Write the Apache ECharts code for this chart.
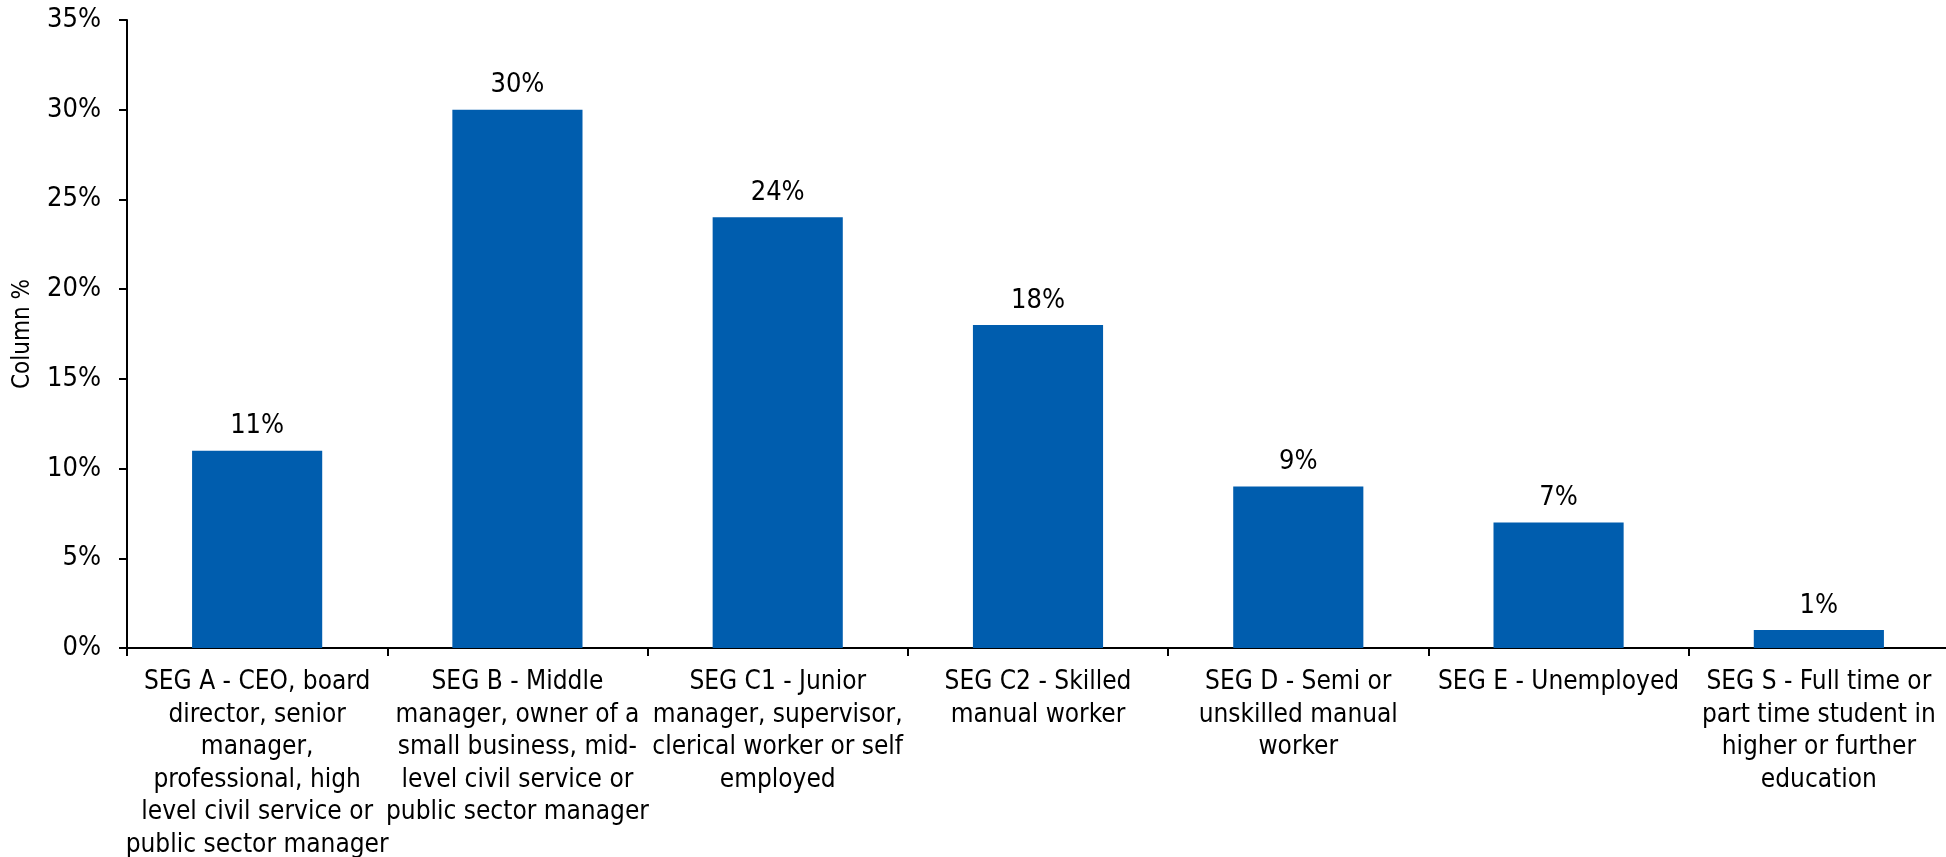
<!DOCTYPE html>
<html>
<head>
<meta charset="utf-8">
<script src="https://cdn.jsdelivr.net/npm/echarts@6/dist/echarts.min.js"></script>
<style>
  html, body { margin: 0; padding: 0; background: #ffffff; overflow: hidden; }
  #chart { width: 1946px; height: 857px; }
</style>
</head>
<body>
<div id="chart"></div>
<script>
// Socio-economic group categories (line breaks are part of the label text)
const categories = [
  'SEG A - CEO, board\ndirector, senior\nmanager,\nprofessional, high\nlevel civil service or\npublic sector manager',
  'SEG B - Middle\nmanager, owner of a\nsmall business, mid-\nlevel civil service or\npublic sector manager',
  'SEG C1 - Junior\nmanager, supervisor,\nclerical worker or self\nemployed',
  'SEG C2 - Skilled\nmanual worker',
  'SEG D - Semi or\nunskilled manual\nworker',
  'SEG E - Unemployed',
  'SEG S - Full time or\npart time student in\nhigher or further\neducation'
];

// Column percentages
const columnPercent = [11, 30, 24, 18, 9, 7, 1];

// Value axis settings
const axisMax = 35;
const axisStep = 5;

const FONT = "'DejaVu Sans Condensed', 'DejaVu Sans', sans-serif";
const BAR_COLOR = '#005DAE';

const chart = echarts.init(document.getElementById('chart'), null, { renderer: 'canvas' });

chart.setOption({
  animation: false,
  textStyle: { fontFamily: FONT, color: '#000' },
  grid: {
    left: 127, right: -3, top: 20, bottom: 209,
    containLabel: false,
    outerBoundsMode: 'none'
  },
  xAxis: {
    type: 'category',
    data: categories,
    axisLine: { show: true, lineStyle: { color: '#000', width: 2 } },
    axisTick: { show: true, alignWithLabel: false, length: 8, lineStyle: { color: '#000', width: 2 } },
    axisLabel: {
      interval: 0,
      margin: 18,
      fontFamily: FONT,
      fontSize: 26,
      lineHeight: 32.5,
      color: '#000',
      align: 'center'
    },
    splitLine: { show: false }
  },
  yAxis: {
    type: 'value',
    min: 0,
    max: axisMax,
    interval: axisStep,
    name: 'Column %',
    nameLocation: 'middle',
    nameGap: 92,
    nameTextStyle: { fontFamily: FONT, fontSize: 24, color: '#000' },
    axisLine: { show: true, lineStyle: { color: '#000', width: 2 } },
    axisTick: { show: true, length: 8, lineStyle: { color: '#000', width: 2 } },
    axisLabel: {
      margin: 26,
      fontFamily: FONT,
      fontSize: 27,
      color: '#000',
      formatter: v => v + '%'
    },
    splitLine: { show: false }
  },
  series: [{
    type: 'bar',
    data: columnPercent,
    barWidth: '50%',
    itemStyle: { color: BAR_COLOR },
    label: {
      show: true,
      position: 'top',
      distance: 11,
      fontFamily: FONT,
      fontSize: 27,
      color: '#000',
      formatter: p => p.value + '%'
    }
  }]
});
</script>
</body>
</html>
